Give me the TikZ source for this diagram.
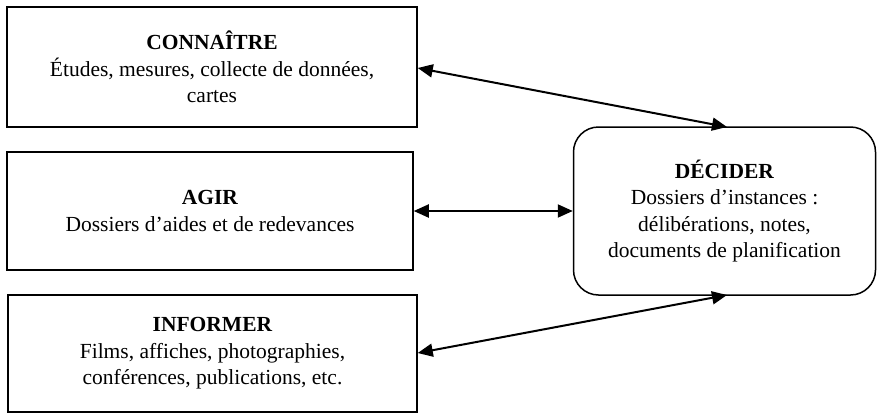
\documentclass[tikz,border=0pt]{standalone}
\usepackage{fontspec}
\setmainfont{Liberation Serif}
\usetikzlibrary{arrows.meta}
\begin{document}
\begin{tikzpicture}[x=1pt,y=-1pt,
  box/.style={draw,line width=1.5pt,align=center,inner sep=0pt,font=\fontsize{21.5}{26.5}\selectfont},
  rbox/.style={box,rounded corners=25pt},
  conn/.style={line width=2pt,{Triangle[length=15pt,width=13pt]}-{Triangle[length=15pt,width=13pt]}}]
\useasboundingbox (0,0) rectangle (877,415);
\node[box,minimum width=410pt,minimum height=120pt] (con) at (212,67) {\textbf{CONNAÎTRE}\\Études, mesures, collecte de données,\\cartes};
\node[box,minimum width=406pt,minimum height=118pt] (agir) at (210,211) {\textbf{AGIR}\\Dossiers d’aides et de redevances};
\node[box,minimum width=409pt,minimum height=117pt] (inf) at (212.5,353.5) {\textbf{INFORMER}\\Films, affiches, photographies,\\conférences, publications, etc.};
\node[rbox,minimum width=302pt,minimum height=168pt] (dec) at (724.5,211) {\textbf{DÉCIDER}\\Dossiers d’instances :\\délibérations, notes,\\documents de planification};
\coordinate (dtop) at (727,127);
\coordinate (dbot) at (727,295);
\draw[conn] (con.east |- 0,68) -- (dtop);
\draw[conn] (agir.east) -- (dec.west);
\draw[conn] (inf.east |- 0,353) -- (dbot);
\end{tikzpicture}
\end{document}
